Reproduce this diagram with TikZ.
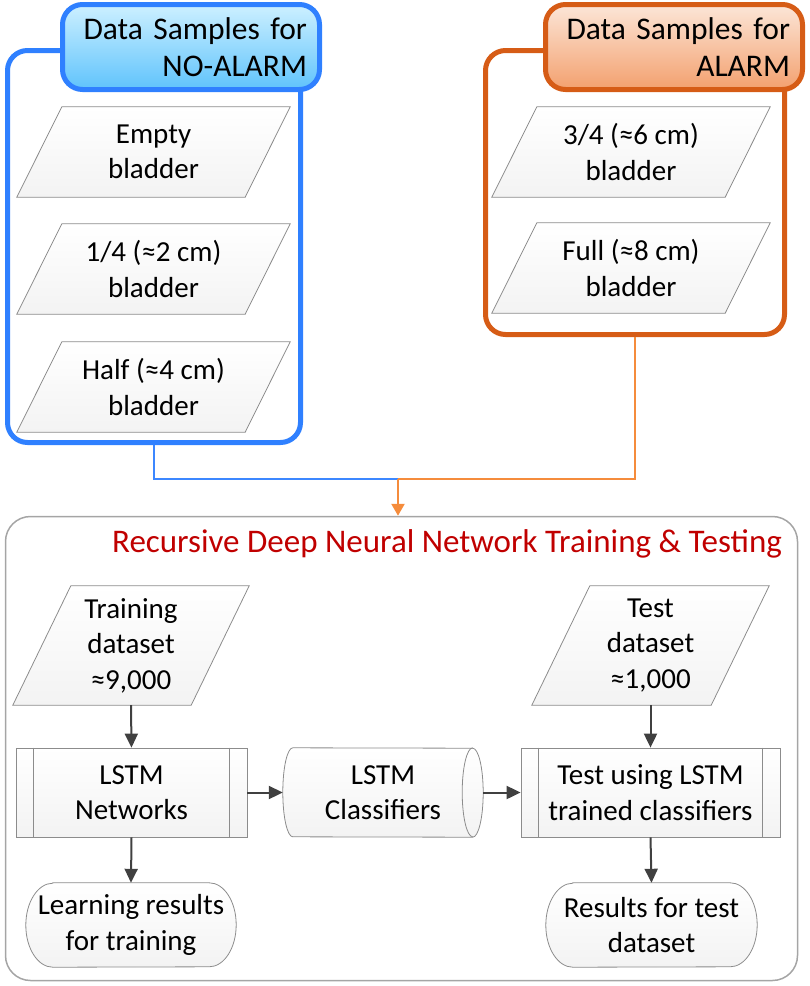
\documentclass[tikz,border=0pt]{standalone}
\usepackage{fontspec}
\setmainfont{Carlito}
\usetikzlibrary{calc,arrows.meta}
\pgfdeclarelayer{background}
\pgfsetlayers{background,main}
\definecolor{bluebd}{RGB}{47,128,255}
\definecolor{blueA}{RGB}{205,240,255}
\definecolor{blueB}{RGB}{95,195,252}
\definecolor{orgbd}{RGB}{214,92,22}
\definecolor{orgA}{RGB}{252,230,216}
\definecolor{orgB}{RGB}{243,160,110}
\definecolor{orgln}{RGB}{245,140,60}
\definecolor{blueln}{RGB}{60,135,255}
\definecolor{shapebd}{RGB}{140,140,140}
\definecolor{shapeB}{RGB}{243,243,243}
\definecolor{panelbd}{RGB}{165,165,165}
\definecolor{arrowc}{RGB}{64,64,64}
\definecolor{titlered}{RGB}{192,0,0}
\newcommand\bodyfont{\fontsize{29}{35.5}\selectfont}
\newcommand\headfont{\fontsize{31.5}{37}\selectfont}
\newcommand\titlefont{\fontsize{33}{38}\selectfont}
\begin{document}
\begin{tikzpicture}[x=1pt,y=-1pt,
  txt/.style={font=\bodyfont, align=center, inner sep=0pt, text=black},
  shapefill/.style={draw=shapebd, line width=0.8pt, top color=white, bottom color=shapeB},
  cont/.style={line width=5pt, rounded corners=20pt, inner sep=0pt},
  header/.style={line width=5pt, rounded corners=20pt, minimum width=257pt,
     minimum height=85pt, text width=232pt, align=right, font=\headfont,
     inner xsep=12.5pt, inner ysep=0pt},
  proc/.style={txt, shapefill, minimum height=89pt},
  arr/.style={draw=arrowc, line width=2pt, -{Triangle[length=14pt,width=13pt]}},
  conn/.style={line width=2.5pt}
]
\useasboundingbox (0,0) rectangle (810,986);

% containers
\node[cont, draw=bluebd, minimum width=293pt, minimum height=392pt] (bc) at (154,246.5) {};
\node[cont, draw=orgbd, minimum width=299pt, minimum height=284pt] (oc) at (635,192.5) {};
\node[header, draw=bluebd, top color=blueA, bottom color=blueB] (bh) at (191,47) {Data Samples for\\NO-ALARM};
\node[header, draw=orgbd, top color=orgA, bottom color=orgB] (oh) at (674,47) {Data Samples for\\ALARM};

% parallelograms (top)
\node[txt, minimum width=273pt, minimum height=90pt] (p1) at (153.5,152) {Empty\\bladder};
\node[txt, minimum width=273pt, minimum height=90pt] (p2) at (153.5,269) {1/4 (≈2 cm)\\bladder};
\node[txt, minimum width=273pt, minimum height=90pt] (p3) at (153.5,387) {Half (≈4 cm)\\bladder};
\node[txt, minimum width=278pt, minimum height=90pt] (p4) at (631,152) {3/4 (≈6 cm)\\bladder};
\node[txt, minimum width=278pt, minimum height=90pt] (p5) at (631,268) {Full (≈8 cm)\\bladder};

% panel
\node[draw=panelbd, line width=1.5pt, rounded corners=25pt, minimum width=792pt, minimum height=464pt, inner sep=0pt] (panel) at (401.5,748.5) {};
\node[font=\titlefont, text=titlered, inner sep=0pt, anchor=base] (title) at (447,552) {Recursive Deep Neural Network Training \& Testing};

\node[txt, minimum width=236pt, minimum height=119pt] (train) at (131,645.5) {Training\\dataset\\≈9,000};
\node[txt, minimum width=237pt, minimum height=119pt] (testds) at (650.5,645.5) {Test\\dataset\\≈1,000};

\node[proc, minimum width=231pt] (lstm) at (131.5,792.5) {LSTM\\Networks};
\node[proc, minimum width=259pt] (testbox) at (650.5,792.5) {Test using LSTM\\trained classifiers};
\node[txt, minimum width=200pt, minimum height=89pt] (cls) at (383,792.5) {LSTM\\Classifiers};

\node[txt, minimum width=210pt, minimum height=84pt] (learn) at (131,925) {Learning results\\for training};
\node[txt, minimum width=211pt, minimum height=84pt] (res) at (651.5,925) {Results for test\\dataset};

% predefined-process side bars
\foreach \n in {lstm,testbox}{
  \draw[shapebd, line width=0.8pt] ($(\n.north west)+(18,0)$) -- ($(\n.south west)+(18,0)$);
  \draw[shapebd, line width=0.8pt] ($(\n.north east)+(-18,0)$) -- ($(\n.south east)+(-18,0)$);
}

\begin{pgfonlayer}{background}
  \foreach \n in {p1,p2,p3,p4,p5}{
    \path[shapefill] ($(\n.north west)+(45,0)$) -- (\n.north east) -- ($(\n.south east)+(-45,0)$) -- (\n.south west) -- cycle;
  }
  \foreach \n in {train,testds}{
    \path[shapefill] ($(\n.north west)+(58,0)$) -- (\n.north east) -- ($(\n.south east)+(-58,0)$) -- (\n.south west) -- cycle;
  }
  \foreach \n in {learn,res}{
    \path[shapefill] ($(\n.north west)+(27,0)$) -- ($(\n.north east)+(-27,0)$)
      arc[start angle=90, end angle=-90, x radius=27pt, y radius=42pt]
      -- ($(\n.south west)+(27,0)$)
      arc[start angle=270, end angle=90, x radius=27pt, y radius=42pt] -- cycle;
  }
  % cylinder
  \path[shapefill] ($(cls.north west)+(10,0)$)
      arc[start angle=90, end angle=270, x radius=10pt, y radius=44.5pt]
      -- ($(cls.south east)+(-10.5,0)$)
      arc[start angle=270, end angle=450, x radius=10.5pt, y radius=44.5pt] -- cycle;
  \draw[shapebd, line width=0.8pt] ($(cls.north east)+(-10.5,0)$)
      arc[start angle=90, end angle=270, x radius=10.5pt, y radius=44.5pt];
\end{pgfonlayer}

% connectors
\coordinate (merge) at (398,479);
\draw[conn, draw=blueln] (bc.south) |- (merge);
\draw[conn, draw=orgln] (oc.south) |- (merge);
\draw[conn, draw=orgln, -{Triangle[length=12pt,width=13pt]}] (merge) -- (merge |- panel.north);

\draw[arr] (train.south) -- (lstm.north);
\draw[arr] (testds.south) -- (testbox.north);
\draw[arr] (lstm.east) -- (cls.west);
\draw[arr] (cls.east) -- (testbox.west);
\draw[arr] (lstm.south) -- (learn.north);
\draw[arr] (testbox.south) -- (res.north);
\end{tikzpicture}
\end{document}
